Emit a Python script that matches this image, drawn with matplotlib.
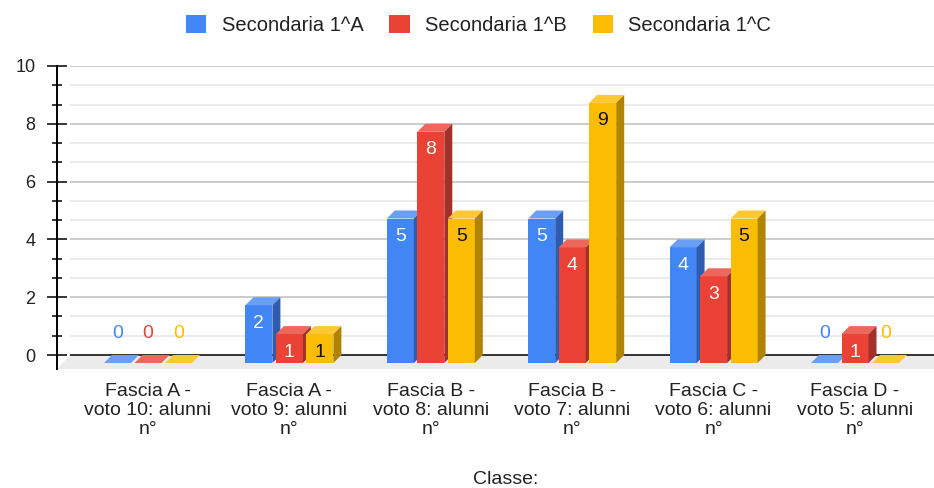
import matplotlib.pyplot as plt
from matplotlib.patches import Patch
import numpy as np

categories = [
    "Fascia A -\nvoto 10: alunni\nn°",
    "Fascia A -\nvoto 9: alunni\nn°",
    "Fascia B -\nvoto 8: alunni\nn°",
    "Fascia B -\nvoto 7: alunni\nn°",
    "Fascia C -\nvoto 6: alunni\nn°",
    "Fascia D -\nvoto 5: alunni\nn°",
]
series_names = ["Secondaria 1^A", "Secondaria 1^B", "Secondaria 1^C"]
values_a = [0, 2, 5, 5, 4, 0]
values_b = [0, 1, 8, 4, 3, 1]
values_c = [0, 1, 5, 9, 5, 0]

front_colors = ["#4285f4", "#ea4335", "#fbbc04"]
top_colors = ["#6b9ff6", "#ee675c", "#fcc934"]
side_colors = ["#2f5cae", "#a3302a", "#b08402"]
label_colors = ["white", "white", "#111111"]

plt.rcParams['font.family'] = ['Liberation Sans', 'DejaVu Sans']

W, H = 934, 488
PX_X = 141.4   # pixels per category
PX_Y = 28.9    # pixels per unit
xmin, xmax = -91 / PX_X, 786 / PX_X
ybot = -14 / PX_Y
dx, dy = 8 / PX_X, 8 / PX_Y
pitch, bw = 30.5 / PX_X, 27 / PX_X
xg = xmin + 13 / PX_X

fig = plt.figure(figsize=(W / 100, H / 100), dpi=100)
ax = fig.add_axes([57 / W, (H - 369) / H, (W - 57) / W, 303 / H])
ax.set_xlim(xmin, xmax)
ax.set_ylim(ybot, 10)

# floor and gridlines
ax.fill([xg, xmax, xmax, xmin], [0, 0, ybot, ybot], color="#ebebeb", lw=0, zorder=0)
minor = [k * 2 / 3 for k in range(1, 15) if k % 3]
ax.hlines(minor, xg, xmax, color="#e6e6e6", lw=1.1, zorder=1)
ax.hlines([2, 4, 6, 8, 10], xg, xmax, color="#cccccc", lw=1.4, zorder=1)
ax.hlines([0], xg, xmax, color="#333333", lw=1.4, zorder=1)

x = np.arange(len(categories))
for i, vals in enumerate([values_a, values_b, values_c]):
    xc = x + (i - 1) * pitch
    z = 3 + i
    ax.bar(xc, vals, bw, bottom=-dy, color=front_colors[i], lw=0, zorder=z)
    for xi, v in zip(xc, vals):
        xl, xr = xi - bw / 2, xi + bw / 2
        ax.fill([xl, xr, xr + dx, xl + dx], [v - dy, v - dy, v, v],
                color=top_colors[i], lw=0, zorder=z)
        if v > 0:
            ax.fill([xr, xr + dx, xr + dx, xr], [-dy, 0, v, v - dy],
                    color=side_colors[i], lw=0, zorder=z)
            ax.text(xi, v - dy - 18 / PX_Y, str(v), ha="center", va="center",
                    fontsize=14, color=label_colors[i], zorder=10)
        else:
            ax.text(xi, 22 / PX_Y, str(v), ha="center", va="center",
                    fontsize=14, color=front_colors[i], zorder=10)

for s in ["top", "right", "bottom"]:
    ax.spines[s].set_visible(False)
ax.spines["left"].set_linewidth(1.4)
ax.set_yticks([0, 2, 4, 6, 8, 10])
ax.set_yticks([k * 2 / 3 for k in range(15) if k % 3], minor=True)
ax.tick_params(axis="y", which="major", direction="inout", length=14, width=1.1,
               pad=8.5, labelsize=13, labelcolor="#222222")
ax.tick_params(axis="y", which="minor", direction="inout", length=7, width=1.1)
ax.set_xticks(x)
ax.set_xticklabels(categories, fontsize=14, color="#222222", linespacing=1.17)
ax.tick_params(axis="x", length=0, pad=10)

fig.text(505.5 / W, 1 - 480 / H, "Classe:", ha="center", va="center",
         fontsize=14, color="#222222")

handles = [Patch(facecolor=c, edgecolor="none") for c in front_colors]
fig.legend(handles, series_names, loc="center", bbox_to_anchor=(478.5 / W, 1 - 25 / H),
           ncol=3, frameon=False, fontsize=14.5, handlelength=1.0, handleheight=1.0,
           handletextpad=0.75, columnspacing=1.3, borderpad=0, labelcolor="#222222")

fig.savefig("out.png", dpi=100)
